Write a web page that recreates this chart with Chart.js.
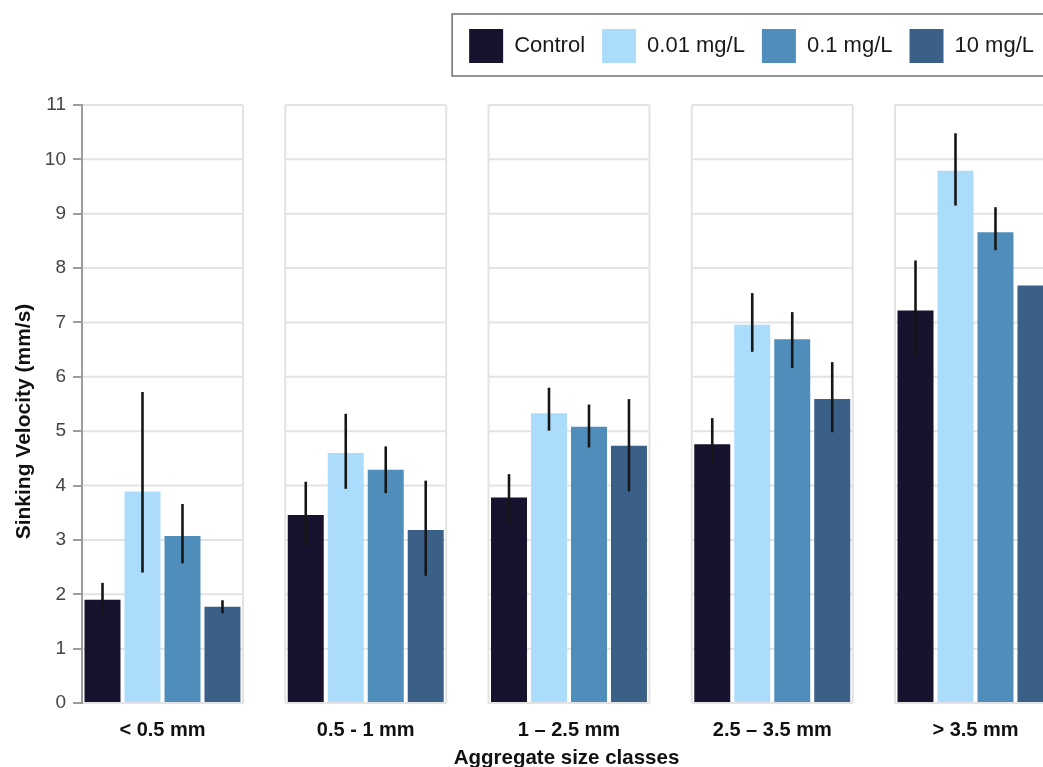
<!DOCTYPE html>
<html lang="en">
<head>
  <meta charset="UTF-8">
  <title>Sinking velocity by aggregate size class</title>
  <script src="https://cdn.jsdelivr.net/npm/chart.js@4.4.0/dist/chart.umd.min.js"></script>
  <style>
    html, body { margin: 0; padding: 0; background: #fff; overflow: hidden; }
    #wrap { position: relative; width: 1043px; height: 767px; overflow: hidden; }
    canvas { position: absolute; left: 0; top: 0; }
  </style>
</head>
<body>
<div id="wrap"><canvas id="myChart" width="1051" height="775"></canvas></div>

<script>
const sizeClasses = ['< 0.5 mm', '0.5 - 1 mm', '1 \u2013 2.5 mm', '2.5 \u2013 3.5 mm', '> 3.5 mm'];
const treatments = ['Control', '0.01 mg/L', '0.1 mg/L', '10 mg/L'];

const control = [1.90, 3.46, 3.78, 4.76, 7.22];
const conc001 = [3.89, 4.60, 5.33, 6.96, 9.79];
const conc01  = [3.07, 4.29, 5.08, 6.69, 8.66];
const conc10  = [1.77, 3.18, 4.73, 5.59, 7.68];

// error bar ends [low, high]; null where the bar is cut off in the figure
const controlErr = [[1.62, 2.21], [2.91, 4.07], [3.29, 4.21], [4.38, 5.24], [6.40, 8.14]];
const conc001Err = [[2.40, 5.72], [3.94, 5.32], [5.01, 5.80], [6.46, 7.54], [9.15, 10.48]];
const conc01Err  = [[2.57, 3.66], [3.86, 4.72], [4.70, 5.49], [6.16, 7.19], [8.33, 9.12]];
const conc10Err  = [[1.65, 1.89], [2.34, 4.09], [3.89, 5.59], [4.98, 6.27], null];

const yTicks = [0, 1, 2, 3, 4, 5, 6, 7, 8, 9, 10, 11];
const colors = ['#17122d', '#abdcfc', '#4f8dba', '#3b6088'];

const series = [control, conc001, conc01, conc10];
const errors = [controlErr, conc001Err, conc01Err, conc10Err];
const half = 0.396; // half a panel, in x units

Chart.defaults.font.family = "'Liberation Sans', Arial, sans-serif";

// draws each facet's frame + horizontal grid
const panelGrid = {
  id: 'panelGrid',
  beforeDraw(chart) {
    const {ctx, scales: {x, y}} = chart;
    const top = y.getPixelForValue(11), bottom = y.getPixelForValue(0);
    ctx.save();
    ctx.strokeStyle = '#e3e3e3';
    ctx.lineWidth = 2;
    sizeClasses.forEach((c, i) => {
      const l = x.getPixelForValue(i - half);
      const r = x.getPixelForValue(i + half);
      ctx.beginPath();
      yTicks.forEach(v => {
        const py = y.getPixelForValue(v);
        ctx.moveTo(l, py);
        ctx.lineTo(r, py);
      });
      ctx.moveTo(l, top); ctx.lineTo(l, bottom);
      ctx.moveTo(r, top); ctx.lineTo(r, bottom);
      ctx.stroke();
    });
    ctx.restore();
  }
};

const errorBars = {
  id: 'errorBars',
  afterDatasetsDraw(chart) {
    const {ctx, chartArea, scales: {y}} = chart;
    ctx.save();
    ctx.beginPath();
    ctx.rect(chartArea.left, chartArea.top, chartArea.right - chartArea.left, chartArea.bottom - chartArea.top);
    ctx.clip();
    ctx.strokeStyle = '#161616';
    ctx.lineWidth = 2.6;
    errors.forEach((errs, d) => {
      chart.getDatasetMeta(d).data.forEach((bar, i) => {
        const e = errs[i];
        if (!e) return;
        ctx.beginPath();
        ctx.moveTo(bar.x, y.getPixelForValue(e[0]));
        ctx.lineTo(bar.x, y.getPixelForValue(e[1]));
        ctx.stroke();
      });
    });
    ctx.restore();
  }
};

// extra room under the legend
const legendMargin = {
  id: 'legendMargin',
  beforeInit(chart) {
    const fitValue = chart.legend.fit;
    chart.legend.fit = function fit() {
      fitValue.bind(chart.legend)();
      this.height += 32;
    };
  }
};

const legendFrame = {
  id: 'legendFrame',
  afterDraw(chart) {
    const hb = chart.legend.legendHitBoxes;
    if (!hb || !hb.length) return;
    const ctx = chart.ctx;
    ctx.save();
    ctx.strokeStyle = '#6e6e6e';
    ctx.lineWidth = 1.5;
    ctx.strokeRect(hb[0].left - 17, hb[0].top - 15, chart.width, hb[0].height + 28);
    ctx.restore();
  }
};

let ctx = document.getElementById('myChart').getContext('2d');

let velocityChart = new Chart(ctx, {
  type: 'bar',
  data: {
    datasets: series.map((vals, d) => ({
      label: treatments[d],
      data: vals.map((v, i) => ({x: i, y: v})),
      backgroundColor: colors[d],
      borderWidth: 0,
      categoryPercentage: 0.787,
      barPercentage: 0.9
    }))
  },
  options: {
    responsive: false,
    animation: false,
    devicePixelRatio: 1,
    layout: { padding: { top: 12, left: 0, right: 0, bottom: 0 } },
    plugins: {
      tooltip: { enabled: false },
      legend: {
        position: 'top',
        align: 'end',
        labels: {
          boxWidth: 34,
          boxHeight: 34,
          padding: 17,
          color: '#1a1a1a',
          font: { size: 22 }
        }
      }
    },
    scales: {
      x: {
        type: 'linear',
        offset: false,
        min: -half,
        max: 4.3715,
        bounds: 'data',
        grid: { display: false, offset: false },
        border: { display: false },
        afterBuildTicks: s => { s.ticks = sizeClasses.map((c, i) => ({value: i})); },
        ticks: {
          autoSkip: false,
          maxRotation: 0,
          padding: 7,
          color: '#111',
          font: { size: 20, weight: 'bold' },
          callback: v => sizeClasses[v]
        },
        title: {
          display: true,
          text: 'Aggregate size classes',
          color: '#111',
          font: { size: 20.5, weight: 'bold' },
          padding: { top: 7, bottom: 4 }
        },
        afterFit: s => { s.height = 72; }
      },
      y: {
        min: 0,
        max: 11,
        ticks: { stepSize: 1, padding: 7, color: '#444', font: { size: 19 } },
        grid: { drawOnChartArea: false, tickLength: 9, color: '#9c9c9c', lineWidth: 2 },
        border: { color: '#9c9c9c', width: 2 },
        title: {
          display: true,
          text: 'Sinking Velocity (mm/s)' + '\u00a0'.repeat(6),
          color: '#111',
          font: { size: 21, weight: 'bold' },
          padding: { top: 12, bottom: 0 }
        },
        afterFit: s => { s.width = 82; }
      }
    }
  },
  plugins: [legendMargin, panelGrid, errorBars, legendFrame]
});
</script>
</body>
</html>
